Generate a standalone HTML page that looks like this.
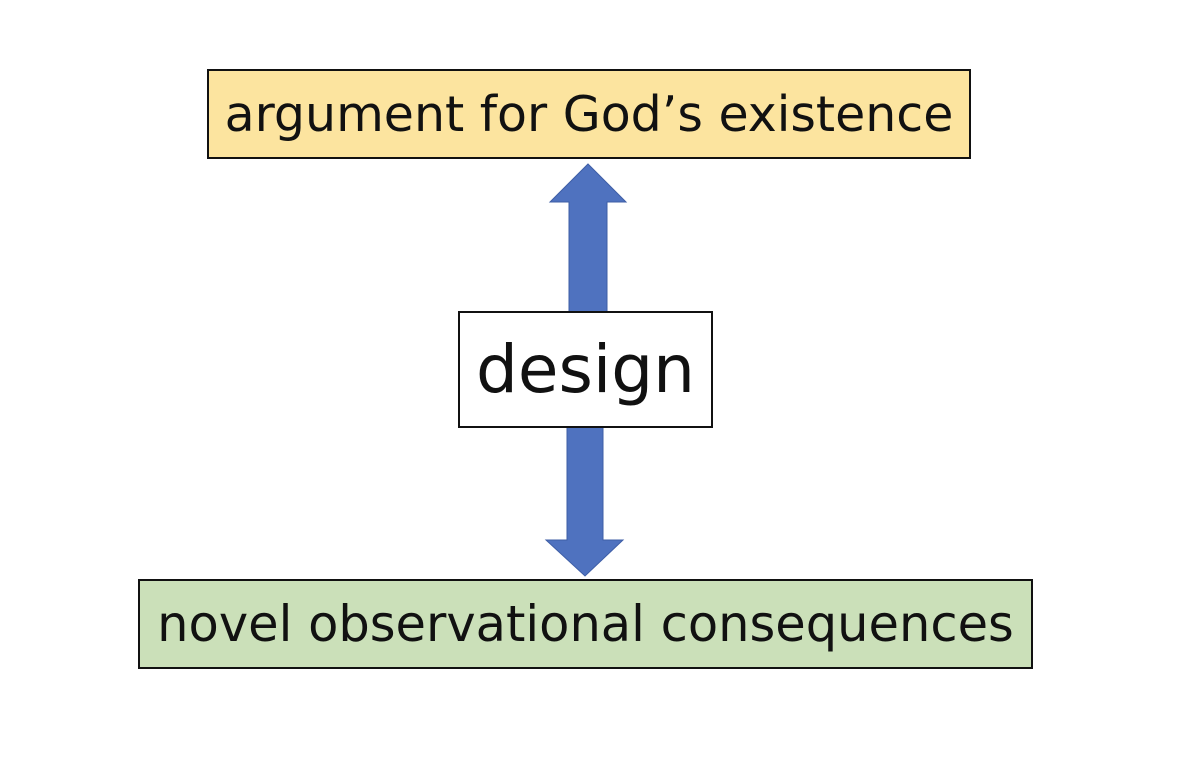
<!DOCTYPE html>
<html><head><style>
body{margin:0;width:1200px;height:763px;background:#fff;position:relative;overflow:hidden;font-family:"DejaVu Sans","Liberation Sans",sans-serif;}
.b{position:absolute;box-sizing:border-box;border:2px solid #111;display:flex;align-items:center;justify-content:center;color:#111;white-space:nowrap;}
</style></head><body>
<svg width="1200" height="763" style="position:absolute;left:0;top:0">
<polygon points="588,164 626,202 607,202 607,314 569,314 569,202 550,202" fill="#4f72bf" stroke="#3e5ea6" stroke-width="1"/>
<polygon points="567,425 603,425 603,540 623,540 585,576 546,540 567,540" fill="#4f72bf" stroke="#3e5ea6" stroke-width="1"/>
</svg>
<div class="b" style="left:207px;top:69px;width:764px;height:90px;background:#fce49f;font-size:49px;">argument for God’s existence</div>
<div class="b" style="left:458px;top:311px;width:255px;height:117px;background:#fff;font-size:66px;">design</div>
<div class="b" style="left:138px;top:579px;width:895px;height:90px;background:#cbe0b9;font-size:49.5px;">novel observational consequences</div>
</body></html>
